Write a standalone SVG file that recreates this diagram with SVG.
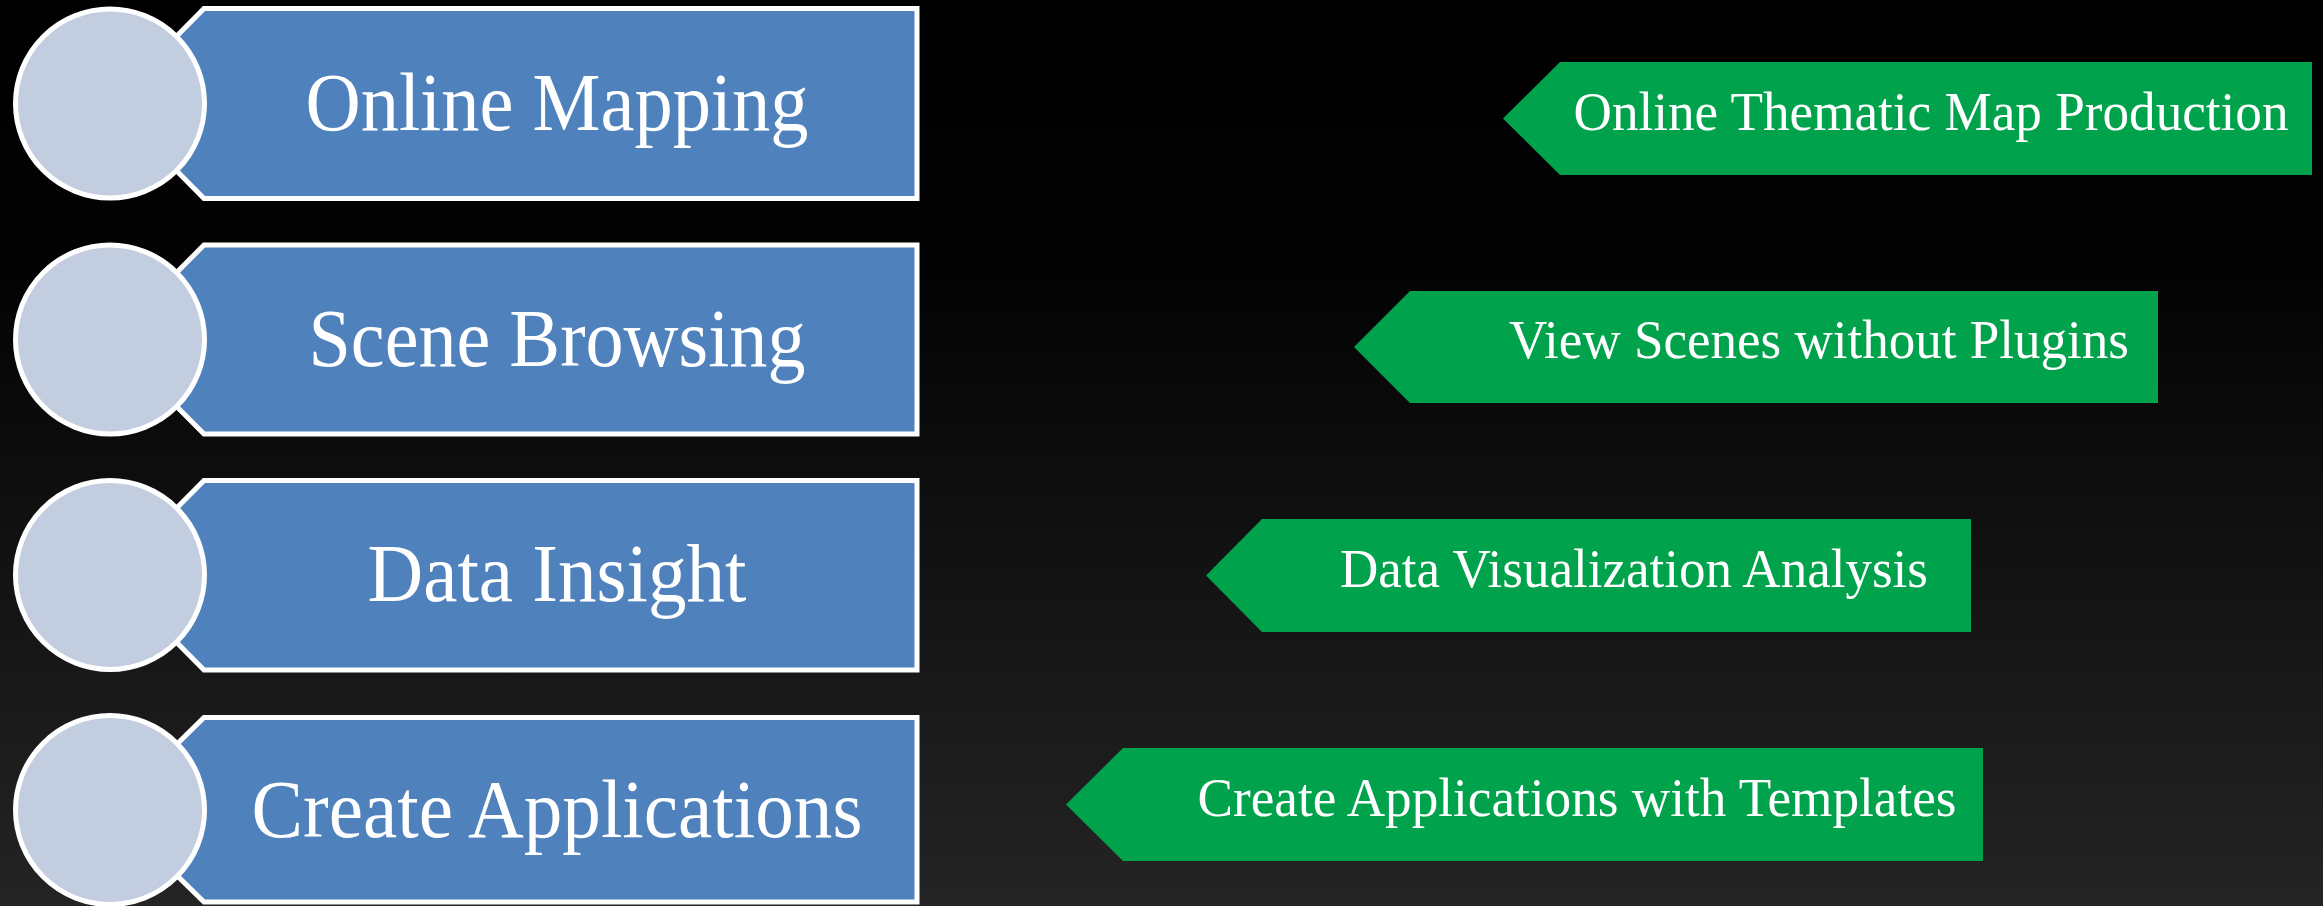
<svg xmlns="http://www.w3.org/2000/svg" width="2323" height="906" viewBox="0 0 2323 906">
<defs>
<linearGradient id="bg" x1="0" y1="0" x2="0" y2="1">
<stop offset="0" stop-color="#000000"/>
<stop offset="0.3" stop-color="#030303"/>
<stop offset="1" stop-color="#242424"/>
</linearGradient>
</defs>
<style>
.blue{fill:#4F81BD;stroke:#FFFFFF;stroke-width:5;stroke-linejoin:miter}
.circ{fill:#C3CDE0;stroke:#FFFFFF;stroke-width:5}
.green{fill:#00A24C;stroke:none}
.bt{font-family:"Liberation Serif","Times New Roman",serif;font-size:83px;fill:#FFFFFF;text-anchor:middle}
.gt{font-family:"Liberation Serif","Times New Roman",serif;font-size:54px;fill:#FFFFFF;text-anchor:middle}
</style>
<rect x="0" y="0" width="2323" height="906" fill="url(#bg)"/>
<g id="connectors"></g>
<g id="node-online-mapping">
<polygon class="blue" points="110,103.5 204,8.5 917,8.5 917,198.5 204,198.5"/>
<circle class="circ" cx="110" cy="103.5" r="94.5"/>
<text class="bt" x="557" y="130" textLength="503" lengthAdjust="spacingAndGlyphs">Online Mapping</text>
</g>
<g id="node-scene-browsing">
<polygon class="blue" points="110,339.5 204,245 917,245 917,434 204,434"/>
<circle class="circ" cx="110" cy="339.5" r="94.5"/>
<text class="bt" x="557" y="366" textLength="497" lengthAdjust="spacingAndGlyphs">Scene Browsing</text>
</g>
<g id="node-data-insight">
<polygon class="blue" points="110,575 204,480.5 917,480.5 917,670 204,670"/>
<circle class="circ" cx="110" cy="575" r="94.5"/>
<text class="bt" x="557" y="601" textLength="379" lengthAdjust="spacingAndGlyphs">Data Insight</text>
</g>
<g id="node-create-applications">
<polygon class="blue" points="110,810 204,717.5 917,717.5 917,902 204,902"/>
<circle class="circ" cx="110" cy="810" r="94.5"/>
<text class="bt" x="557" y="837" textLength="611" lengthAdjust="spacingAndGlyphs">Create Applications</text>
</g>
<g id="node-thematic-map">
<polygon class="green" points="1503,118.5 1560,62 2312,62 2312,175 1560,175"/>
<text class="gt" x="1931" y="130" textLength="715" lengthAdjust="spacingAndGlyphs">Online Thematic Map Production</text>
</g>
<g id="node-view-scenes">
<polygon class="green" points="1354,347 1410,291 2158,291 2158,403 1410,403"/>
<text class="gt" x="1819" y="358" textLength="620" lengthAdjust="spacingAndGlyphs">View Scenes without Plugins</text>
</g>
<g id="node-data-visualization">
<polygon class="green" points="1206,575.5 1262,519 1971,519 1971,632 1262,632"/>
<text class="gt" x="1634" y="587" textLength="588" lengthAdjust="spacingAndGlyphs">Data Visualization Analysis</text>
</g>
<g id="node-create-templates">
<polygon class="green" points="1066,804.5 1123,748 1983,748 1983,861 1123,861"/>
<text class="gt" x="1577" y="816" textLength="759" lengthAdjust="spacingAndGlyphs">Create Applications with Templates</text>
</g>
</svg>
